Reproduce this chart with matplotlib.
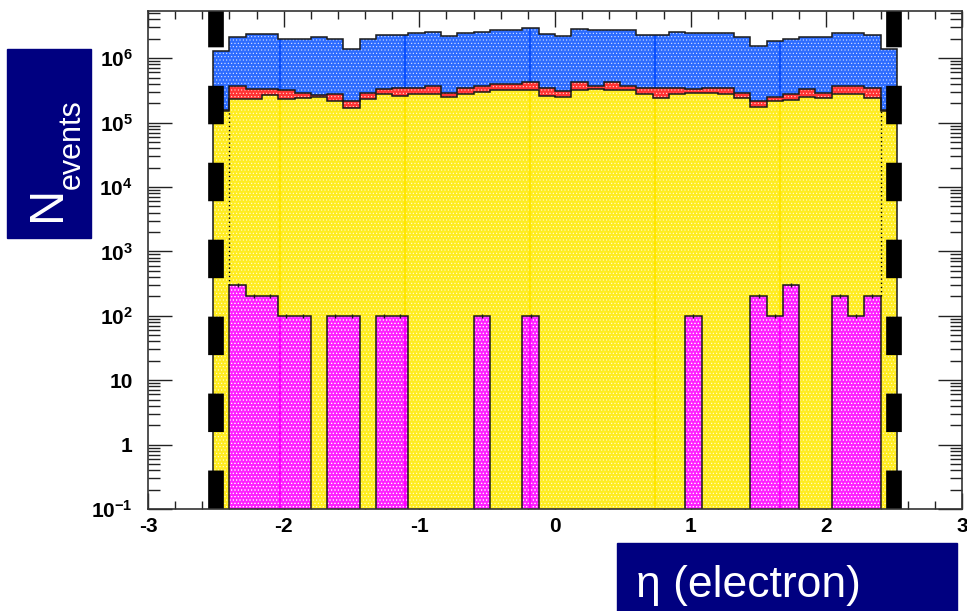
import numpy as np
import matplotlib
matplotlib.use("Agg")
import matplotlib.pyplot as plt
from matplotlib.patches import Rectangle
from matplotlib.ticker import FixedLocator, FixedFormatter, LogLocator, MultipleLocator, NullFormatter

plt.rcParams["lines.scale_dashes"] = False
plt.rcParams["mathtext.fontset"] = "custom"
plt.rcParams["mathtext.bf"] = "Liberation Sans:bold"
plt.rcParams["mathtext.rm"] = "Liberation Sans"
plt.rcParams["hatch.linewidth"] = 0.4

# 42 eta bins of width 0.12 between -2.52 and 2.52
eta_edges = np.round(np.linspace(-2.52, 2.52, 43), 2)

# magenta sample (bottom of the stack)
n_signal = [0, 300, 200, 200, 100, 100, 0, 100, 100, 0,
            100, 100, 0, 0, 0, 0, 100, 0, 0, 100,
            0, 0, 0, 0, 0, 0, 0, 0, 0, 100,
            0, 0, 0, 200, 100, 300, 0, 0, 200, 100,
            200, 0]

# stacked levels
n_yellow = [1.52e5, 2.31e5, 2.33e5, 2.69e5, 2.31e5, 2.44e5, 2.54e5, 2.20e5, 1.67e5, 2.33e5,
            2.76e5, 2.60e5, 2.76e5, 2.76e5, 2.54e5, 2.76e5, 3.03e5, 3.22e5, 3.22e5, 3.22e5,
            2.60e5, 2.54e5, 3.22e5, 3.30e5, 3.22e5, 3.15e5, 2.76e5, 2.39e5, 2.76e5, 2.86e5,
            2.86e5, 2.76e5, 2.39e5, 1.73e5, 2.17e5, 2.25e5, 2.54e5, 2.39e5, 2.76e5, 2.76e5,
            2.39e5, 1.52e5]
n_yellow_red = [1.58e5, 3.72e5, 3.30e5, 3.30e5, 3.22e5, 2.92e5, 2.69e5, 2.76e5, 2.17e5, 2.92e5,
                3.38e5, 3.50e5, 3.50e5, 3.72e5, 2.92e5, 3.50e5, 3.72e5, 3.95e5, 3.95e5, 4.33e5,
                3.46e5, 3.11e5, 4.20e5, 3.72e5, 4.33e5, 3.72e5, 3.42e5, 3.50e5, 3.50e5, 3.30e5,
                3.42e5, 3.42e5, 2.92e5, 2.20e5, 2.48e5, 2.76e5, 3.35e5, 2.92e5, 3.72e5, 3.72e5,
                3.42e5, 1.56e5]
n_total = [1.31e6, 2.16e6, 2.36e6, 2.36e6, 1.97e6, 1.97e6, 2.12e6, 1.97e6, 1.39e6, 1.97e6,
           2.33e6, 2.33e6, 2.44e6, 2.56e6, 2.22e6, 2.44e6, 2.56e6, 2.78e6, 2.78e6, 2.92e6,
           2.40e6, 2.22e6, 2.88e6, 2.75e6, 2.75e6, 2.75e6, 2.27e6, 2.27e6, 2.59e6, 2.44e6,
           2.44e6, 2.44e6, 2.12e6, 1.57e6, 1.88e6, 2.00e6, 2.12e6, 2.12e6, 2.44e6, 2.44e6,
           2.33e6, 1.38e6]

cut_eta = [-2.5, 2.5]
stripe_eta = [-2.03, -1.105, -0.184, 0.737, 1.658]

x_ticks = [-3, -2, -1, 0, 1, 2, 3]
x_labels = ["-3", "-2", "-1", "0", "1", "2", "3"]
y_ticks = [0.1, 1, 10, 1e2, 1e3, 1e4, 1e5, 1e6]
y_labels = [r"$\mathbf{10^{-1}}$", "1", "10", r"$\mathbf{10^{2}}$", r"$\mathbf{10^{3}}$",
            r"$\mathbf{10^{4}}$", r"$\mathbf{10^{5}}$", r"$\mathbf{10^{6}}$"]

FLOOR = 1e-3
YMIN, YMAX = 0.1, 5.4e6

sig = np.array(n_signal, float)
sig_plot = np.where(sig > 0, sig, FLOOR)
yel = np.array(n_yellow)
yr = np.array(n_yellow_red)
tot = np.array(n_total)

fig = plt.figure(figsize=(9.67, 6.11), dpi=100)
ax = fig.add_axes([148 / 967, 1 - 509 / 611, 814 / 967, 498 / 611])
ax.set_yscale("log")
ax.set_xlim(-3, 3)
ax.set_ylim(YMIN, YMAX)


def band(lo, hi, color):
    ax.stairs(hi, eta_edges, baseline=lo, fill=True, facecolor=color, edgecolor="none", lw=0, zorder=2)
    ax.stairs(hi, eta_edges, baseline=lo, fill=True, facecolor="none",
              edgecolor=(1, 1, 1, 0.8), hatch=".....", lw=0, zorder=2.1)


band(yr, tot, "#2d6cff")
band(yel, yr, "#ff3434")
band(FLOOR, yel, "#ffec20")
band(FLOOR, sig_plot, "#ff20ff")

# brighter seams in the fill pattern
idx = np.searchsorted(eta_edges, stripe_eta) - 1
ax.vlines(stripe_eta, yr[idx], tot[idx], color="#0a50ff", lw=1.6, zorder=2.2)
ax.vlines(stripe_eta, sig_plot[idx], yel[idx], color="#ffe600", lw=1.6, zorder=2.2)
ax.vlines(stripe_eta, FLOOR, sig_plot[idx], color="#ff00ff", lw=1.6, zorder=2.2)

ol = dict(color="#1a1a1a", lw=1.1, zorder=3)
ax.stairs(tot, eta_edges, baseline=FLOOR, **ol)
ax.stairs(yr, eta_edges, baseline=None, **ol)
ax.stairs(yel, eta_edges, baseline=None, **ol)
ax.stairs(sig_plot, eta_edges, baseline=FLOOR, **ol)

centers = 0.5 * (eta_edges[1:] + eta_edges[:-1])
m = sig > 0
ax.vlines(centers[m], sig[m] * 0.93, sig[m] * 1.08, color="#1a1a1a", lw=1.0, zorder=3)

ax.vlines([eta_edges[1], eta_edges[41]], [sig[1], sig[40]], [yel[0], yel[41]],
          color="k", lw=1.0, linestyles=(0, (1, 2)), zorder=3)

for x in cut_eta:
    ax.axvline(x, color="k", lw=11.3, linestyle=(0, (27.7, 27.7)),
               dash_capstyle="butt", zorder=4)

# axes / ticks
ax.xaxis.set_major_locator(FixedLocator(x_ticks))
ax.xaxis.set_major_formatter(FixedFormatter(x_labels))
ax.xaxis.set_minor_locator(MultipleLocator(0.2))
ax.yaxis.set_major_locator(FixedLocator(y_ticks))
ax.yaxis.set_major_formatter(FixedFormatter(y_labels))
ax.yaxis.set_minor_locator(LogLocator(base=10, subs=np.arange(2, 10)))
ax.yaxis.set_minor_formatter(NullFormatter())
ax.tick_params(which="both", direction="in", top=True, right=True, color="#222", width=1.0)
ax.tick_params(axis="x", which="major", length=11.5, pad=6)
ax.tick_params(axis="x", which="minor", length=5.8)
ax.tick_params(axis="y", which="major", length=17.3, pad=11)
ax.tick_params(axis="y", which="minor", length=8.6)
for lab in ax.get_xticklabels() + ax.get_yticklabels():
    lab.set_fontfamily("Liberation Sans")
    lab.set_fontweight("bold")
    lab.set_fontsize(15)
for s in ax.spines.values():
    s.set_linewidth(1.2)
    s.set_color("#333")
    s.set_zorder(5)

# axis titles in navy boxes
navy = "#000080"
fig.add_artist(Rectangle((7 / 967, 1 - 238 / 611), 84 / 967, 189 / 611,
                         transform=fig.transFigure, color=navy))
fig.text(60 / 967, 1 - 221 / 611, "N", rotation=90, rotation_mode="anchor",
         ha="left", va="baseline", fontsize=35, color="white", family="Liberation Sans")
fig.text(80 / 967, 1 - 189 / 611, "events", rotation=90, rotation_mode="anchor",
         ha="left", va="baseline", fontsize=22, color="white", family="Liberation Sans")

fig.add_artist(Rectangle((617 / 967, 0), 340 / 967, 68 / 611,
                         transform=fig.transFigure, color=navy))
fig.text(636 / 967, 1 - 597 / 611, "η (electron)", ha="left", va="baseline",
         fontsize=32, color="white", family="Liberation Sans")

fig.savefig("out.png", dpi=100)
